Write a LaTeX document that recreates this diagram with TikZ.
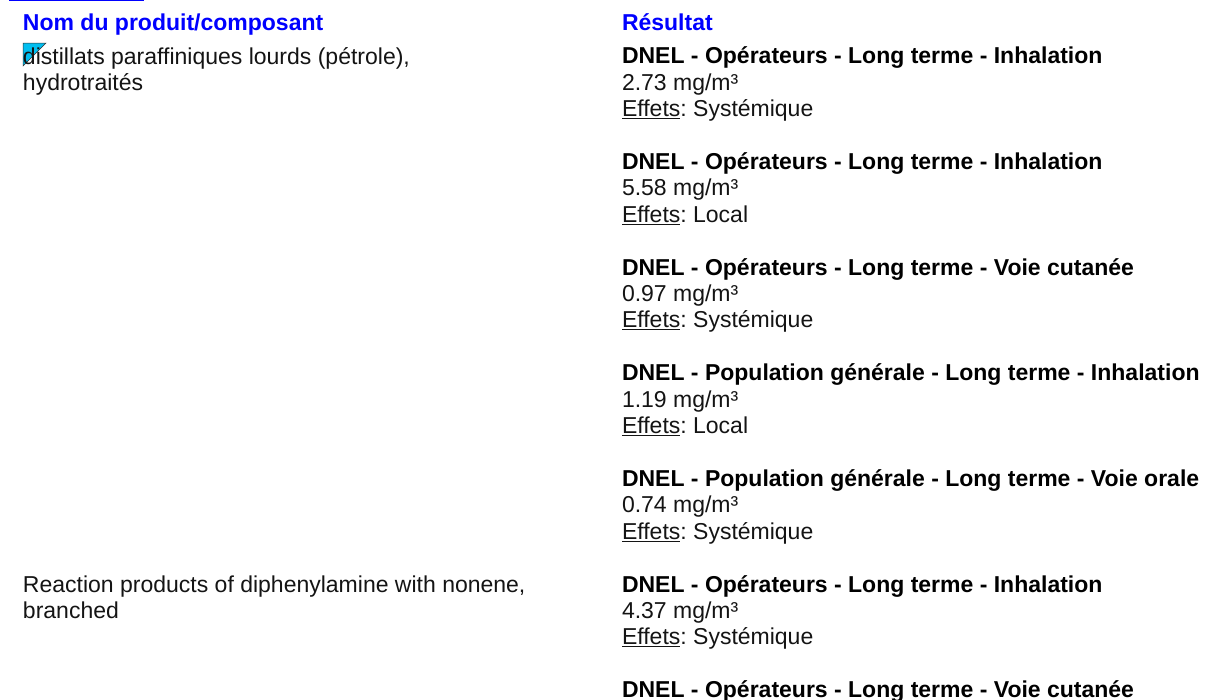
\documentclass[tikz,border=0pt]{standalone}
\usepackage{fontspec}
\setmainfont{Liberation Sans}
\frenchspacing
\definecolor{headblue}{RGB}{0,0,255}
\definecolor{markcyan}{RGB}{0,190,240}
\tikzset{
  x=1pt,y=-1pt,
  txt/.style={anchor=base west,inner sep=0pt,outer sep=0pt,font=\fontsize{23}{26}\selectfont,text=black!92},
  bold/.style={txt,font=\fontsize{23}{26}\selectfont\bfseries,text=black},
  head/.style={txt,font=\fontsize{23}{26}\selectfont\bfseries,text=headblue}
}
\newcommand{\eff}[1]{\underline{Effets}: #1}
\begin{document}
\begin{tikzpicture}
\useasboundingbox (0,0) rectangle (1207,699);
\fill[white] (0,0) rectangle (1207,699);
\fill[headblue] (9,0) rectangle (144,1.3);
\node[head] (h1) at (23,30) {Nom du produit/composant};
\node[head] (h2) at (622,30) {Résultat};
\filldraw[fill=markcyan,draw=black!80,line width=0.5pt] (23,43) -- (46,43) -- (23,66) -- cycle;
\node[txt] (p1a) at (23,64) {distillats paraffiniques lourds (pétrole),};
\node[txt] (p1b) at (23,90.4) {hydrotraités};
\node[txt] (p2a) at (23,592) {Reaction products of diphenylamine with nonene,};
\node[txt] (p2b) at (23,618.4) {branched};
\node[bold] (t1) at (622,63.6) {DNEL - Opérateurs - Long terme - Inhalation};
\node[txt] (v1) at (622,90) {2.73 mg/m³};
\node[txt] (e1) at (622,116.5) {\eff{Systémique}};
\node[bold] (t2) at (622,169.4) {DNEL - Opérateurs - Long terme - Inhalation};
\node[txt] (v2) at (622,195.8) {5.58 mg/m³};
\node[txt] (e2) at (622,222.3) {\eff{Local}};
\node[bold] (t3) at (622,275) {DNEL - Opérateurs - Long terme - Voie cutanée};
\node[txt] (v3) at (622,301.4) {0.97 mg/m³};
\node[txt] (e3) at (622,327.9) {\eff{Systémique}};
\node[bold] (t4) at (622,380.8) {DNEL - Population générale - Long terme - Inhalation};
\node[txt] (v4) at (622,407.2) {1.19 mg/m³};
\node[txt] (e4) at (622,433.7) {\eff{Local}};
\node[bold] (t5) at (622,486.4) {DNEL - Population générale - Long terme - Voie orale};
\node[txt] (v5) at (622,512.8) {0.74 mg/m³};
\node[txt] (e5) at (622,539.3) {\eff{Systémique}};
\node[bold] (t6) at (622,592) {DNEL - Opérateurs - Long terme - Inhalation};
\node[txt] (v6) at (622,618.4) {4.37 mg/m³};
\node[txt] (e6) at (622,644.9) {\eff{Systémique}};
\node[bold] (t7) at (622,697.6) {DNEL - Opérateurs - Long terme - Voie cutanée};
\end{tikzpicture}
\end{document}
